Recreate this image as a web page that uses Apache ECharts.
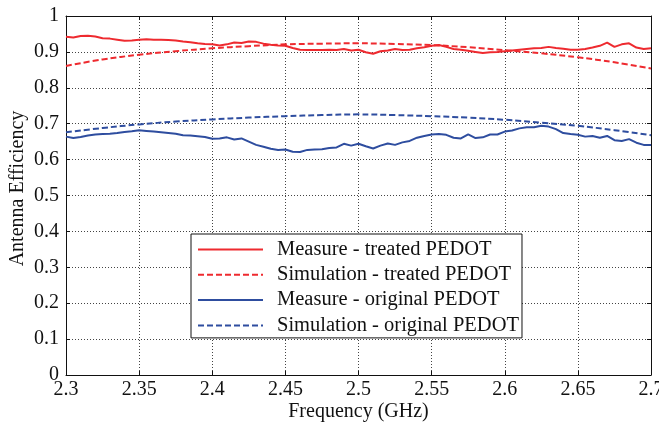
<!DOCTYPE html>
<html>
<head>
<meta charset="utf-8">
<script src="https://cdn.jsdelivr.net/npm/echarts@6/dist/echarts.min.js"></script>
<style>
html,body{margin:0;padding:0;background:#fff;}
#chart{width:659px;height:423px;}
</style>
</head>
<body>
<div id="chart"></div>
<script>
// Frequency grid (GHz) for measured curves, step 0.005
const measFreq = [];
for (let i = 0; i <= 80; i++) measFreq.push(+(2.3 + i * 0.005).toFixed(3));
// Frequency grid (GHz) for simulated curves, step 0.025
const simFreq = [2.3,2.325,2.35,2.375,2.4,2.425,2.45,2.475,2.5,2.525,2.55,2.575,2.6,2.625,2.65,2.675,2.7];

const measTreated = [
0.942,0.940,0.944,0.945,0.943,0.938,0.937,0.934,0.931,0.932,
0.934,0.935,0.934,0.934,0.933,0.932,0.929,0.927,0.924,0.922,
0.921,0.918,0.921,0.926,0.925,0.929,0.928,0.923,0.920,0.918,
0.917,0.911,0.906,0.905,0.905,0.905,0.906,0.905,0.908,0.904,
0.906,0.899,0.895,0.902,0.904,0.908,0.905,0.906,0.910,0.913,
0.917,0.919,0.914,0.908,0.906,0.903,0.900,0.897,0.899,0.900,
0.902,0.904,0.906,0.908,0.910,0.911,0.914,0.911,0.909,0.906,
0.906,0.908,0.912,0.917,0.926,0.914,0.921,0.924,0.912,0.908,
0.910];
const simTreated = [0.861,0.879,0.892,0.902,0.910,0.916,0.921,0.923,0.924,0.922,0.919,0.913,0.905,0.896,0.885,0.871,0.854];
const measOriginal = [
0.664,0.660,0.663,0.667,0.670,0.671,0.672,0.674,0.677,0.679,
0.682,0.680,0.678,0.676,0.674,0.672,0.668,0.667,0.665,0.663,
0.658,0.659,0.662,0.656,0.659,0.650,0.641,0.636,0.630,0.627,
0.628,0.622,0.621,0.627,0.628,0.629,0.632,0.634,0.644,0.639,
0.644,0.637,0.631,0.639,0.645,0.641,0.648,0.652,0.661,0.666,
0.670,0.671,0.669,0.661,0.659,0.670,0.660,0.662,0.670,0.670,
0.678,0.681,0.687,0.690,0.690,0.694,0.692,0.685,0.674,0.671,
0.669,0.664,0.666,0.661,0.666,0.654,0.652,0.657,0.647,0.641,
0.641];
const simOriginal = [0.676,0.688,0.698,0.706,0.712,0.717,0.721,0.724,0.726,0.724,0.721,0.717,0.711,0.703,0.694,0.682,0.668];

const xTickLabels = ['2.3','2.35','2.4','2.45','2.5','2.55','2.6','2.65','2.7'];
const yTickLabels = ['0','0.1','0.2','0.3','0.4','0.5','0.6','0.7','0.8','0.9','1'];
const seriesNames = ['Measure - treated PEDOT','Simulation - treated PEDOT','Measure - original PEDOT','Simulation - original PEDOT'];

const RED = '#ee2a2f', BLUE = '#2e4d9f';
const FONT = '"Liberation Serif","DejaVu Serif",serif';
const zip = (xs, ys) => xs.map((x, i) => [x, ys[i]]);

const chart = echarts.init(document.getElementById('chart'), null, {renderer:'canvas'});
const gridLine = {show:true, lineStyle:{color:'#444', type:[1,2], width:1}};
const axisLbl = {color:'#111', fontFamily:FONT, fontSize:20};
chart.setOption({
  animation:false,
  backgroundColor:'#fff',
  grid:{left:66, right:8, top:16, bottom:48, containLabel:false, outerBoundsMode:'none', show:false},
  xAxis:[{
    type:'value', min:2.3, max:2.7, interval:0.05,
    name:'Frequency (GHz)', nameLocation:'middle', nameGap:27, nameMoveOverlap:false,
    nameTextStyle:{color:'#111', fontFamily:FONT, fontSize:20},
    axisLine:{show:true, onZero:false, lineStyle:{color:'#111', width:1}},
    axisTick:{show:true, inside:true, length:4, lineStyle:{color:'#111'}},
    axisLabel:Object.assign({margin:5, hideOverlap:false, formatter:(v,i)=>xTickLabels[i]}, axisLbl),
    splitLine:gridLine
  },{
    type:'value', min:2.3, max:2.7, interval:0.05, position:'top',
    axisLine:{show:true, onZero:false, lineStyle:{color:'#111', width:1}},
    axisTick:{show:true, inside:true, length:4, lineStyle:{color:'#111'}},
    axisLabel:{show:false}, splitLine:{show:false}
  }],
  yAxis:[{
    type:'value', min:0, max:1, interval:0.1,
    name:'Antenna Efficiency', nameLocation:'middle', nameGap:38, nameMoveOverlap:false,
    nameTextStyle:{color:'#111', fontFamily:FONT, fontSize:20, padding:[0,0,0,14]},
    axisLine:{show:true, onZero:false, lineStyle:{color:'#111', width:1}},
    axisTick:{show:true, inside:true, length:4, lineStyle:{color:'#111'}},
    axisLabel:Object.assign({margin:7, formatter:(v,i)=>yTickLabels[i]}, axisLbl),
    splitLine:gridLine
  },{
    type:'value', min:0, max:1, interval:0.1, position:'right',
    axisLine:{show:true, onZero:false, lineStyle:{color:'#111', width:1}},
    axisTick:{show:true, inside:true, length:4, lineStyle:{color:'#111'}},
    axisLabel:{show:false}, splitLine:{show:false}
  }],
  legend:{
    orient:'vertical', left:191, top:234,
    backgroundColor:'#fff', borderColor:'#111', borderWidth:1,
    padding:[5,3,2,6], itemGap:4.3, itemWidth:65, itemHeight:14,
    itemStyle:{opacity:0},
    textStyle:{color:'#111', fontFamily:FONT, fontSize:20.5, padding:[0,0,0,9], lineHeight:20},
    data:seriesNames
  },
  series:[
    {name:seriesNames[0], type:'line', data:zip(measFreq, measTreated), showSymbol:false, symbol:'none',
     lineStyle:{color:RED, width:2}, itemStyle:{color:RED}},
    {name:seriesNames[1], type:'line', data:zip(simFreq, simTreated), showSymbol:false, symbol:'none', smooth:0.4,
     lineStyle:{color:RED, width:2, type:[6,3]}, itemStyle:{color:RED}},
    {name:seriesNames[2], type:'line', data:zip(measFreq, measOriginal), showSymbol:false, symbol:'none',
     lineStyle:{color:BLUE, width:2}, itemStyle:{color:BLUE}},
    {name:seriesNames[3], type:'line', data:zip(simFreq, simOriginal), showSymbol:false, symbol:'none', smooth:0.4,
     lineStyle:{color:BLUE, width:2, type:[6,3]}, itemStyle:{color:BLUE}}
  ]
});
</script>
</body>
</html>
